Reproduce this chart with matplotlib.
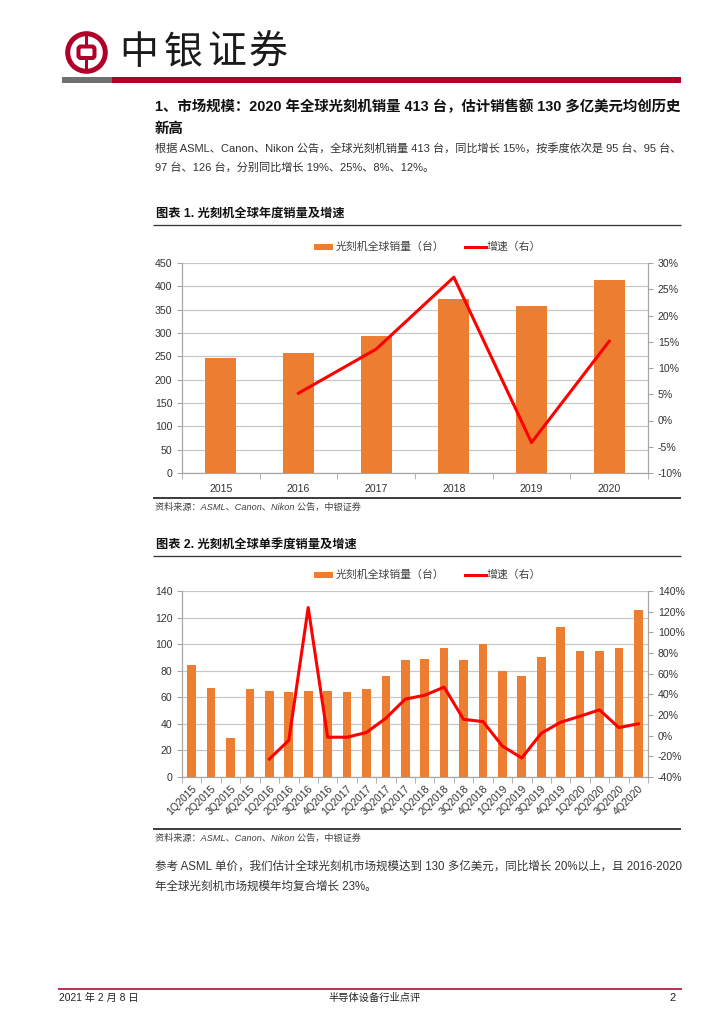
import numpy as np
import matplotlib
matplotlib.use("Agg")
import matplotlib.pyplot as plt
from matplotlib.patches import Circle, Rectangle, FancyBboxPatch

plt.rcParams['font.family'] = ['Liberation Sans', 'Noto Sans CJK SC', 'DejaVu Sans']
plt.rcParams['axes.unicode_minus'] = False

# ---- data ----
years = ['2015', '2016', '2017', '2018', '2019', '2020']
annual_units = [246, 258, 293, 373, 358, 413]
annual_growth = [np.nan, 5.2, 13.6, 27.3, -4.2, 15.1]

quarters = ['1Q2015', '2Q2015', '3Q2015', '4Q2015', '1Q2016', '2Q2016', '3Q2016', '4Q2016',
            '1Q2017', '2Q2017', '3Q2017', '4Q2017', '1Q2018', '2Q2018', '3Q2018', '4Q2018',
            '1Q2019', '2Q2019', '3Q2019', '4Q2019', '1Q2020', '2Q2020', '3Q2020', '4Q2020']
quarterly_units = [84, 67, 29, 66, 65, 64, 65, 65, 64, 66, 76, 88,
                   89, 97, 88, 100, 80, 76, 90, 113, 95, 95, 97, 126]
quarterly_growth = [np.nan, np.nan, np.nan, np.nan, -22.6, -4.5, 124.0, -1.5,
                    -1.5, 3.1, 16.9, 35.4, 39.1, 47.0, 15.8, 13.6,
                    -10.1, -21.6, 2.3, 13.0, 18.8, 25.0, 7.8, 11.5]

BAR_C = '#ED7D31'
LINE_C = '#FF0000'
BRAND = '#B0002A'
GRID_C = '#C8C8C8'
TXT = '#333333'

W, H = 724, 1024
fig = plt.figure(figsize=(W / 100, H / 100), dpi=100)

# full-page overlay in pixel coordinates
ov = fig.add_axes([0, 0, 1, 1], zorder=0)
ov.set_xlim(0, W); ov.set_ylim(H, 0); ov.axis('off')


def px_axes(x0, y0, x1, y1):
    return fig.add_axes([x0 / W, 1 - y1 / H, (x1 - x0) / W, (y1 - y0) / H], zorder=2)


def hline(y, x0, x1, color, lw):
    ov.plot([x0, x1], [y, y], color=color, lw=lw * 0.72, solid_capstyle='butt')


# ---- header ----
ov.add_patch(Circle((86.5, 52.5), 18.8, fill=False, ec=BRAND, lw=5 * 0.72))
ov.add_patch(Rectangle((84.7, 33), 3.6, 13, color=BRAND, lw=0))
ov.add_patch(Rectangle((84.7, 58), 3.6, 14, color=BRAND, lw=0))
ov.add_patch(FancyBboxPatch((78.5, 46.5), 16, 11.5, boxstyle='round,pad=0,rounding_size=2.5',
                            fill=False, ec=BRAND, lw=4 * 0.72))
for ch, cx in zip('中银证券', [139, 183, 227, 268]):
    ov.text(cx, 53, ch, fontsize=28, ha='center', va='center', color='#1a1a1a',
            family=['Noto Sans CJK SC'], fontweight='light')
ov.add_patch(Rectangle((61.5, 77), 50, 6, color='#707070', lw=0))
ov.add_patch(Rectangle((111.5, 77), 569, 6, color=BRAND, lw=0))

# ---- section text ----
ov.text(155, 107, '1、市场规模：2020 年全球光刻机销量 413 台，估计销售额 130 多亿美元均创历史',
        fontsize=10.4, fontweight='bold', va='center', color='#111111')
ov.text(155, 129, '新高', fontsize=10.4, fontweight='bold', va='center', color='#111111')
ov.text(155, 148, '根据 ASML、Canon、Nikon 公告，全球光刻机销量 413 台，同比增长 15%，按季度依次是 95 台、95 台、',
        fontsize=8.05, va='center', color=TXT)
ov.text(155, 167, '97 台、126 台，分别同比增长 19%、25%、8%、12%。', fontsize=8.05, va='center', color=TXT)


def legend(y, names):
    ov.add_patch(Rectangle((314, y - 3), 19, 6, color=BAR_C, lw=0))
    ov.text(336, y, names[0], fontsize=7.8, va='center', color='#404040')
    ov.plot([465, 486], [y, y], color=LINE_C, lw=2.2)
    ov.text(487, y, names[1], fontsize=7.8, va='center', color='#404040')


def style_axes(ax, ax2):
    for a in (ax, ax2):
        a.spines['top'].set_visible(False)
        for s in ('left', 'right', 'bottom'):
            a.spines[s].set_color('#A6A6A6')
            a.spines[s].set_linewidth(0.8)
        a.tick_params(colors='#A6A6A6', labelcolor=TXT, labelsize=7.6, length=3.5, width=0.8)
    ax.yaxis.grid(True, color=GRID_C, lw=0.9)
    ax.set_axisbelow(True)
    ax.patch.set_visible(False)


# ---- chart 1 ----
ov.text(156, 214, '图表 1. 光刻机全球年度销量及增速', fontsize=8.8, fontweight='bold', va='center', color='#111111')
hline(225, 153, 681, '#333333', 1.3)
legend(246.5, ['光刻机全球销量（台）', '增速（右）'])

ax = px_axes(182, 263, 648, 473)
ax2 = ax.twinx()
ax.set_zorder(1); ax2.set_zorder(2)
x1 = np.arange(len(years))
ax.bar(x1, annual_units, width=0.4, color=BAR_C, zorder=3)
ax2.plot(x1, annual_growth, color=LINE_C, lw=2.2)
ax.set_xlim(-0.5, len(years) - 0.5)
ax.set_ylim(0, 450); ax.set_yticks(np.arange(0, 451, 50))
ax2.set_ylim(-10, 30); ax2.set_yticks(np.arange(-10, 31, 5))
ax2.set_yticklabels([f'{v}%' for v in range(-10, 31, 5)])
ax.set_xticks(x1); ax.set_xticklabels(years)
ax.set_xticks(np.arange(-0.5, len(years), 1), minor=True)
style_axes(ax, ax2)
ax.tick_params(axis='x', which='major', length=0, pad=8)
ax.tick_params(axis='x', which='minor', length=4, color='#A6A6A6')
hline(497.5, 153, 681, '#404040', 2)
ov.text(155, 507, '资料来源：ASML、Canon、Nikon 公告，中银证券', fontsize=6.6, style='italic',
        va='center', color='#404040')

# ---- chart 2 ----
ov.text(156, 545, '图表 2. 光刻机全球单季度销量及增速', fontsize=8.8, fontweight='bold', va='center', color='#111111')
hline(556, 153, 681, '#333333', 1.3)
legend(574.5, ['光刻机全球销量（台）', '增速（右）'])

bx = px_axes(182, 591, 648, 777)
bx2 = bx.twinx()
bx.set_zorder(1); bx2.set_zorder(2)
x2 = np.arange(len(quarters))
bx.bar(x2, quarterly_units, width=0.45, color=BAR_C, zorder=3)
bx2.plot(x2, quarterly_growth, color=LINE_C, lw=2.2)
bx.set_xlim(-0.5, len(quarters) - 0.5)
bx.set_ylim(0, 140); bx.set_yticks(np.arange(0, 141, 20))
bx2.set_ylim(-40, 140); bx2.set_yticks(np.arange(-40, 141, 20))
bx2.set_yticklabels([f'{v}%' for v in range(-40, 141, 20)])
bx.set_xticks(x2)
bx.set_xticklabels(quarters, rotation=45, ha='right', va='top', rotation_mode='anchor')
bx.set_xticks(np.arange(-0.5, len(quarters), 1), minor=True)
style_axes(bx, bx2)
bx.tick_params(axis='x', which='major', length=0, pad=5)
bx.tick_params(axis='x', which='minor', length=4, color='#A6A6A6')
hline(829, 153, 681, '#404040', 2)
ov.text(155, 838, '资料来源：ASML、Canon、Nikon 公告，中银证券', fontsize=6.6, style='italic',
        va='center', color='#404040')

# ---- closing paragraph ----
ov.text(155, 867, '参考 ASML 单价，我们估计全球光刻机市场规模达到 130 多亿美元，同比增长 20%以上，且 2016-2020',
        fontsize=8.3, va='center', color=TXT)
ov.text(155, 887, '年全球光刻机市场规模年均复合增长 23%。', fontsize=8.3, va='center', color=TXT)

# ---- footer ----
hline(989, 58, 682, BRAND, 1.6)
ov.text(59, 998, '2021 年 2 月 8 日', fontsize=7.4, va='center', color='#222222')
ov.text(375, 998, '半导体设备行业点评', fontsize=7.4, va='center', ha='center', color='#222222')
ov.text(676, 998, '2', fontsize=8, va='center', ha='right', color='#222222')

fig.savefig('out.png', dpi=100)
